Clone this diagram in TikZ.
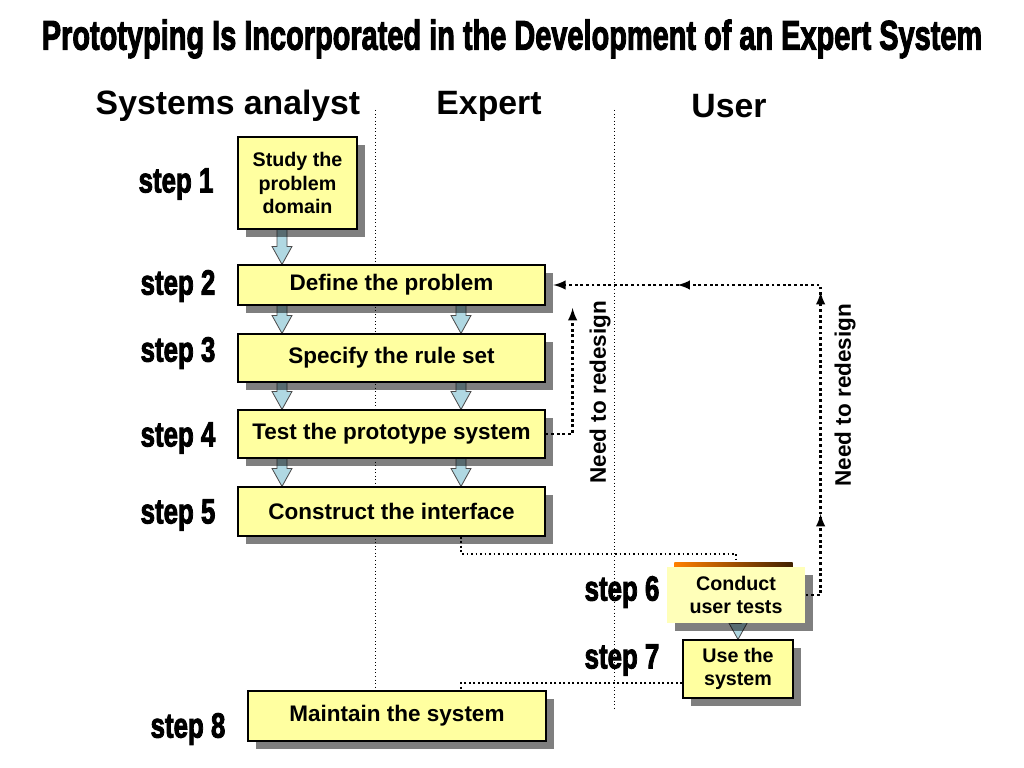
\documentclass[tikz,border=0pt]{standalone}
\usepackage{fontspec}
\setmainfont{Liberation Sans}
\newfontfamily\heavyfont{Liberation Sans}[FakeBold=3]
\usepackage{graphicx}
\usepackage{tikz}
\usetikzlibrary{shadows}
\usetikzlibrary{positioning}
\usetikzlibrary{arrows,shapes}
\usetikzlibrary{calc}
\usetikzlibrary{decorations.markings}

\pgfdeclarelayer{background}
\pgfsetlayers{background,main}

\definecolor{boxyellow}{RGB}{255,255,160}
\definecolor{testyellow}{RGB}{255,255,185}
\definecolor{arrowblue}{RGB}{176,216,226}

\newcommand{\steplabel}[1]{\scalebox{0.8}[1.08]{\heavyfont\bfseries\fontsize{23}{23}\selectfont #1}}
\newcommand{\blockdown}[2]{%
  \filldraw[flowarrow] ($(#1)+(-5,0)$) -- ($(#1)+(5,0)$) -- ($(#2)+(5,-18)$) -- ($(#2)+(10,-18)$)
     -- (#2) -- ($(#2)+(-10,-18)$) -- ($(#2)+(-5,-18)$) -- cycle;}

\begin{document}
\begin{tikzpicture}[x=0.025cm, y=-0.025cm,
  stepbox/.style={draw=black, thick, fill=boxyellow, inner sep=0pt, align=center,
    font=\bfseries\fontsize{16}{18}\selectfont,
    drop shadow={shadow xshift=5.5pt, shadow yshift=-5.5pt, opacity=0.5, fill=black}},
  smallbox/.style={stepbox, font=\bfseries\fontsize{14}{16.5}\selectfont},
  conductbox/.style={smallbox, draw=none, fill=testyellow},
  flowarrow/.style={fill=arrowblue, draw=black!70, line width=0.6pt},
  redesign/.style={line width=2pt, dash pattern=on 2pt off 2pt, >=latex},
  handoff/.style={line width=1.4pt, dash pattern=on 1.4pt off 1.8pt},
  lane/.style={line width=0.5pt, dotted},
  header/.style={font=\bfseries\fontsize{24}{26}\selectfont},
  note/.style={font=\bfseries\fontsize{16}{18}\selectfont, rotate=90}]

  \useasboundingbox (0,0) rectangle (1024,768);

  % title and lanes
  \node (title) at (512,39) {\resizebox{23.5cm}{0.75cm}{\heavyfont\bfseries Prototyping Is Incorporated in the Development of an Expert System}};

  \node[header] (analyst) at (228,106) {Systems analyst};
  \node[header] (expert) at (489,106) {Expert};
  \node[header] (user) at (729,106) {User};

  \coordinate (colA) at (282,0);
  \coordinate (colB) at (461,0);

  % boxes
  \node[smallbox, minimum width=2.975cm, minimum height=2.3cm] (study) at (297.5,183) {Study the\\problem\\domain};
  \node[stepbox, minimum width=7.675cm, minimum height=1cm] (define) at (391.5,285) {Define the problem};
  \node[stepbox, minimum width=7.675cm, minimum height=1.2cm] (specify) at (391.5,358) {Specify the rule set};
  \node[stepbox, minimum width=7.675cm, minimum height=1.2cm] (test) at (391.5,434) {Test the prototype system};
  \node[stepbox, minimum width=7.675cm, minimum height=1.225cm] (construct) at (391.5,511.5) {Construct the interface};
  \node[conductbox, minimum width=3.45cm, minimum height=1.4cm] (conduct) at (736,595) {Conduct\\user tests};
  \node[smallbox, minimum width=2.75cm, minimum height=1.45cm] (use) at (738,669) {Use the\\system};
  \node[stepbox, minimum width=7.45cm, minimum height=1.25cm] (maintain) at (397,716) {Maintain the system};

  % step labels
  \node (s1) at (176,184) {\steplabel{step 1}};
  \node (s2) at (178,286) {\steplabel{step 2}};
  \node (s3) at (178,353) {\steplabel{step 3}};
  \node (s4) at (178,438) {\steplabel{step 4}};
  \node (s5) at (178,515) {\steplabel{step 5}};
  \node (s6) at (622,592) {\steplabel{step 6}};
  \node (s7) at (622,660) {\steplabel{step 7}};
  \node (s8) at (188,729) {\steplabel{step 8}};

  \node[note] (needA) at (600,392) {Need to redesign};
  \node[note] (needB) at (845,395) {Need to redesign};

  \begin{pgfonlayer}{background}
    \draw[lane] (375,110) -- (375,690);
    \draw[lane] (614,110) -- (614,708);

    \blockdown{study.south -| colA}{define.north -| colA}
    \blockdown{define.south -| colA}{specify.north -| colA}
    \blockdown{define.south -| colB}{specify.north -| colB}
    \blockdown{specify.south -| colA}{test.north -| colA}
    \blockdown{specify.south -| colB}{test.north -| colB}
    \blockdown{test.south -| colA}{construct.north -| colA}
    \blockdown{test.south -| colB}{construct.north -| colB}
    \blockdown{conduct.south}{use.north}

    \shade[left color=orange, right color=black!75!orange] ($(conduct.north west)+(8,-4)$) rectangle ($(conduct.north east)+(-13,2)$);

    \draw[handoff] (construct.south -| colB) -- ++(0,17) -| ($(conduct.north)+(0,-6)$);
    \draw[handoff] ($(use.west)+(0,14)$) -| (maintain.north -| colB);
  \end{pgfonlayer}

  % redesign loops
  \draw[redesign, ->] (test.east) -- ++(27,0) -- ++(0,-126);
  \draw[redesign, ->, shorten >=5.5pt, postaction=decorate,
    decoration={markings, mark=at position 0.16 with {\arrow{latex}},
      mark=at position 0.53 with {\arrow{latex}}, mark=at position 0.78 with {\arrow{latex}}}]
    (conduct.east) -| ($(define.east)+(275,0)$) -- (define.east);

\end{tikzpicture}
\end{document}
